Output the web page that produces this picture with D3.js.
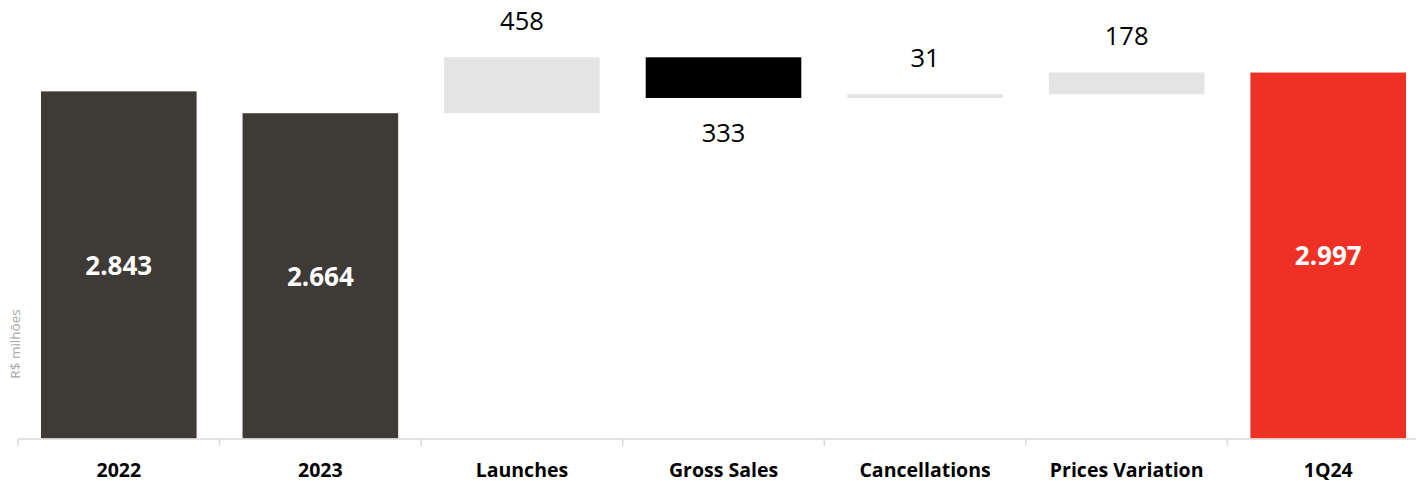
<!DOCTYPE html>
<html>
<head>
<meta charset="utf-8">
<script src="https://cdn.jsdelivr.net/npm/d3@7"></script>
<style>
  html, body { margin: 0; padding: 0; background: #ffffff; }
  svg { display: block; }
</style>
</head>
<body>
<svg id="chart" width="1416" height="481"></svg>
<script>
// Inventory bridge, R$ millions
const categories = ["2022", "2023", "Launches", "Gross Sales", "Cancellations", "Prices Variation", "1Q24"];
const kinds      = ["total", "total", "delta", "delta", "delta", "delta", "total"];
const values     = [2843, 2664, 458, -333, 31, 178, 2997];
const yAxisTitle = "R$ milhões";

const width = 1416, height = 481;
const svg = d3.select("#chart");

const fontFamily = "'Open Sans', 'Noto Sans', sans-serif";
const colors = {
  past: "#3e3a35",
  current: "#ee3124",
  up: "#e4e4e4",
  down: "#000000",
  axis: "#d9d9d9",
  title: "#a6a6a6"
};

// Brazilian number format: 2.843
const ptBR = d3.formatLocale({ decimal: ",", thousands: ".", grouping: [3], currency: ["R$", ""] });
const fmt = ptBR.format(",.0f");

// Build running start/end for each step of the waterfall
let running = 0;
const rows = categories.map((c, i) => {
  let start, end;
  if (kinds[i] === "total") {
    start = 0; end = values[i]; running = values[i];
  } else {
    start = running; end = running + values[i]; running = end;
  }
  return { category: c, kind: kinds[i], value: values[i], start, end, index: i };
});

const pInner = 0.228;
const x = d3.scaleBand()
  .domain(categories)
  .range([18, 1429])
  .paddingInner(pInner)
  .paddingOuter(pInner / 2);

const y = d3.scaleLinear()
  .domain([0, 3000])
  .range([438.5, 438.5 - 3000 * 0.1221]);

function fillFor(d) {
  if (d.kind === "total") return d.index === categories.length - 1 ? colors.current : colors.past;
  return d.value >= 0 ? colors.up : colors.down;
}

// Bars
svg.append("g")
  .selectAll("rect")
  .data(rows)
  .join("rect")
  .attr("x", d => x(d.category))
  .attr("width", x.bandwidth())
  .attr("y", d => y(Math.max(d.start, d.end)))
  .attr("height", d => Math.abs(y(d.start) - y(d.end)))
  .attr("fill", fillFor);

// Category axis
const axisY = 439;
const step = x.step();
const axisG = svg.append("g")
  .attr("transform", `translate(0,${axisY})`)
  .call(d3.axisBottom(x).tickSize(0).tickPadding(24));
axisG.select(".domain")
  .attr("stroke", colors.axis)
  .attr("stroke-width", 1.5)
  .attr("d", `M18,0H${18 + step * categories.length}`);
axisG.selectAll(".tick text")
  .attr("font-family", fontFamily)
  .attr("font-size", 19.5)
  .attr("font-weight", 700)
  .attr("fill", "#000");

// Tick marks at the category boundaries
const boundaries = d3.range(categories.length + 1).map(i => 18 + i * step);
svg.append("g")
  .selectAll("line")
  .data(boundaries)
  .join("line")
  .attr("x1", d => d).attr("x2", d => d)
  .attr("y1", axisY).attr("y2", axisY + 7)
  .attr("stroke", colors.axis)
  .attr("stroke-width", 1.5);

// Totals: labels inside the bar
svg.append("g")
  .selectAll("text")
  .data(rows.filter(d => d.kind === "total"))
  .join("text")
  .attr("x", d => x(d.category) + x.bandwidth() / 2)
  .attr("y", d => (y(d.end) + y(0)) / 2)
  .attr("dy", "0.38em")
  .attr("text-anchor", "middle")
  .attr("font-family", fontFamily)
  .attr("font-size", 26)
  .attr("font-weight", 700)
  .attr("fill", "#ffffff")
  .text(d => fmt(d.value));

// Deltas: labels outside the end of the bar
svg.append("g")
  .selectAll("text")
  .data(rows.filter(d => d.kind === "delta"))
  .join("text")
  .attr("x", d => x(d.category) + x.bandwidth() / 2)
  .attr("y", d => d.value >= 0 ? y(d.end) - 27 : y(d.end) + 44)
  .attr("text-anchor", "middle")
  .attr("font-family", fontFamily)
  .attr("font-size", 25.5)
  .attr("fill", "#000")
  .text(d => fmt(Math.abs(d.value)));

// Y axis title
svg.append("text")
  .attr("transform", "translate(20,344) rotate(-90)")
  .attr("text-anchor", "middle")
  .attr("font-family", fontFamily)
  .attr("font-size", 13.5)
  .attr("fill", colors.title)
  .text(yAxisTitle);
</script>
</body>
</html>
